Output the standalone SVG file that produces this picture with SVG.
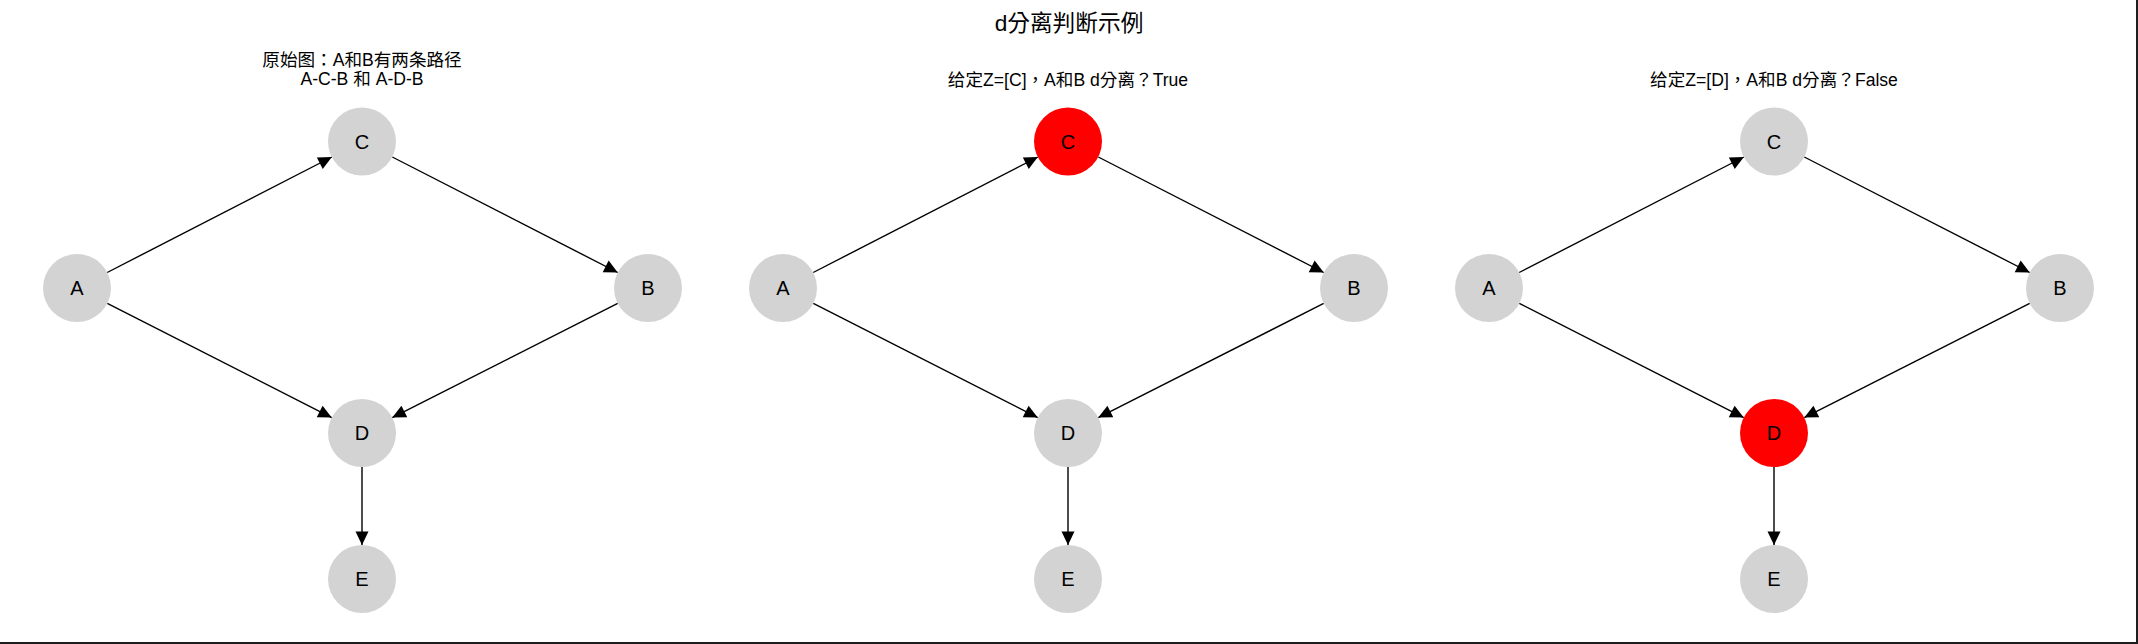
<svg xmlns="http://www.w3.org/2000/svg" width="2138" height="644" viewBox="0 0 2138 644">
<style>
  .title { font-family: "Liberation Sans", "Noto Sans CJK TC", sans-serif; font-size: 22.7px; fill: #000; text-anchor: middle; }
  .sub { font-family: "Liberation Sans", "Noto Sans CJK TC", sans-serif; font-size: 17.6px; fill: #000; text-anchor: middle; }
  .node circle { fill: #d3d3d3; }
  .node.hl circle { fill: #ff0000; }
  .node text { font-family: "Liberation Sans", "Noto Sans CJK TC", sans-serif; font-size: 20px; fill: #000; text-anchor: middle; }
  .edge { stroke: #000; stroke-width: 1.4; fill: none; marker-end: url(#arr); }
</style>
<defs>
  <marker id="arr" markerUnits="userSpaceOnUse" viewBox="-15 -7 16 14" refX="0" refY="0" markerWidth="16" markerHeight="14" orient="auto">
    <path d="M0,0 L-13.5,-6.5 L-13.5,6.5 z" fill="#000"/>
  </marker>
</defs>
<rect x="0" y="0" width="2138" height="644" fill="#fff"/>
<path d="M2137,0 V643 H0" stroke="#1e1e1e" stroke-width="2" fill="none"/>

<text class="title" x="1069" y="31">d分离判断示例</text>
<text class="sub" x="362" y="66">原始图：A和B有两条路径</text>
<text class="sub" x="362" y="85">A-C-B 和 A-D-B</text>
<text class="sub" x="1068" y="86">给定Z=[C]，A和B d分离？True</text>
<text class="sub" x="1774" y="86">给定Z=[D]，A和B d分离？False</text>

<g id="connectors">
  <g transform="translate(0,0)">
    <path class="edge" d="M107.2,272.5 L331.8,157.0"/>
    <path class="edge" d="M392.3,157.0 L617.7,272.5"/>
    <path class="edge" d="M107.3,303.4 L331.7,417.6"/>
    <path class="edge" d="M617.7,303.4 L392.3,417.6"/>
    <path class="edge" d="M362,467 L362,545"/>
  </g>
  <g transform="translate(706,0)">
    <path class="edge" d="M107.2,272.5 L331.8,157.0"/>
    <path class="edge" d="M392.3,157.0 L617.7,272.5"/>
    <path class="edge" d="M107.3,303.4 L331.7,417.6"/>
    <path class="edge" d="M617.7,303.4 L392.3,417.6"/>
    <path class="edge" d="M362,467 L362,545"/>
  </g>
  <g transform="translate(1412,0)">
    <path class="edge" d="M107.2,272.5 L331.8,157.0"/>
    <path class="edge" d="M392.3,157.0 L617.7,272.5"/>
    <path class="edge" d="M107.3,303.4 L331.7,417.6"/>
    <path class="edge" d="M617.7,303.4 L392.3,417.6"/>
    <path class="edge" d="M362,467 L362,545"/>
  </g>
</g>

<g id="p1-A" class="node"><circle cx="77" cy="288" r="34"/><text x="77" y="295">A</text></g>
<g id="p1-C" class="node"><circle cx="362" cy="141.5" r="34"/><text x="362" y="148.5">C</text></g>
<g id="p1-B" class="node"><circle cx="648" cy="288" r="34"/><text x="648" y="295">B</text></g>
<g id="p1-D" class="node"><circle cx="362" cy="433" r="34"/><text x="362" y="440">D</text></g>
<g id="p1-E" class="node"><circle cx="362" cy="579" r="34"/><text x="362" y="586">E</text></g>

<g id="p2-A" class="node"><circle cx="783" cy="288" r="34"/><text x="783" y="295">A</text></g>
<g id="p2-C" class="node hl"><circle cx="1068" cy="141.5" r="34"/><text x="1068" y="148.5">C</text></g>
<g id="p2-B" class="node"><circle cx="1354" cy="288" r="34"/><text x="1354" y="295">B</text></g>
<g id="p2-D" class="node"><circle cx="1068" cy="433" r="34"/><text x="1068" y="440">D</text></g>
<g id="p2-E" class="node"><circle cx="1068" cy="579" r="34"/><text x="1068" y="586">E</text></g>

<g id="p3-A" class="node"><circle cx="1489" cy="288" r="34"/><text x="1489" y="295">A</text></g>
<g id="p3-C" class="node"><circle cx="1774" cy="141.5" r="34"/><text x="1774" y="148.5">C</text></g>
<g id="p3-B" class="node"><circle cx="2060" cy="288" r="34"/><text x="2060" y="295">B</text></g>
<g id="p3-D" class="node hl"><circle cx="1774" cy="433" r="34"/><text x="1774" y="440">D</text></g>
<g id="p3-E" class="node"><circle cx="1774" cy="579" r="34"/><text x="1774" y="586">E</text></g>
</svg>
